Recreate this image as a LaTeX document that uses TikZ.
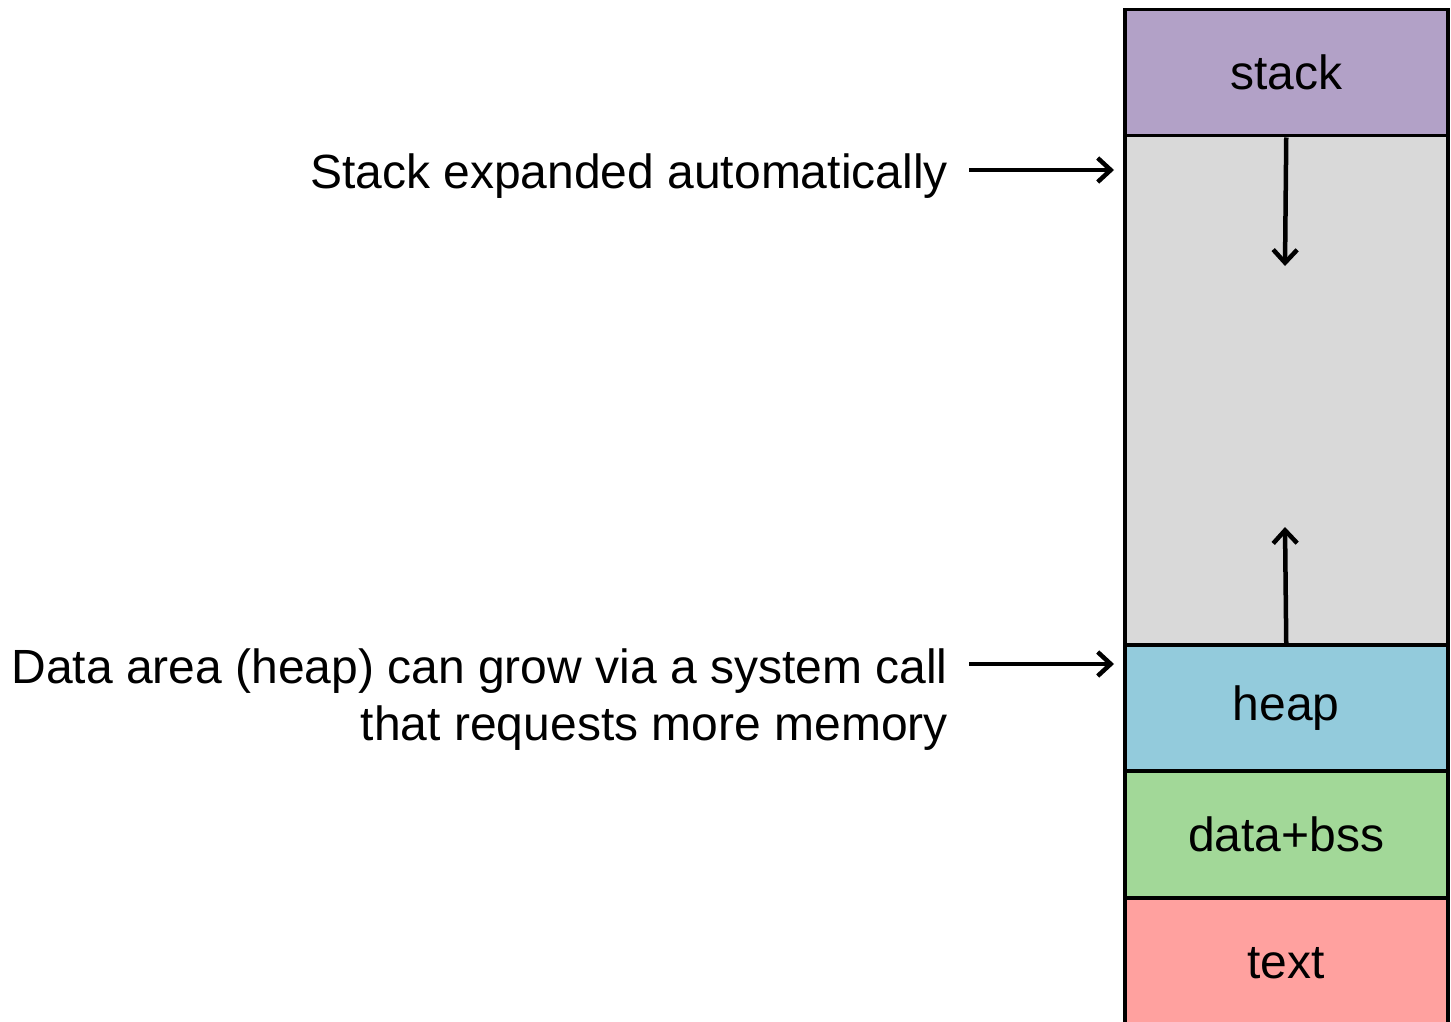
\documentclass[tikz,border=0pt]{standalone}
\usepackage{fontspec}
\setmainfont{Liberation Sans}
\usetikzlibrary{arrows.meta}
\definecolor{cstack}{HTML}{B2A1C7}
\definecolor{cgap}{HTML}{D9D9D9}
\definecolor{cheap}{HTML}{93CBDC}
\definecolor{cdata}{HTML}{A2D898}
\definecolor{ctext}{HTML}{FFA19F}
\tikzset{
  seg/.style={draw=black, line width=3.5pt, minimum width=323pt, inner sep=0pt, anchor=north west, font=\fontsize{48}{57}\selectfont},
  arr/.style={line width=4.5pt, -{Straight Barb[length=13pt,width=24pt]}},
  lbl/.style={font=\fontsize{48}{57}\selectfont, align=right, inner sep=0pt, anchor=base east}
}
\begin{document}
\begin{tikzpicture}[x=1pt,y=-1pt]
\useasboundingbox (0,0) rectangle (1451,1022);
\begin{scope}
\clip (0,0) rectangle (1451,1022);
\node[seg, fill=cgap, minimum height=509pt] (gap) at (1123,134) {};
\node[seg, fill=cstack, minimum height=126pt] (stack) at (1123,8) {stack};
\node[seg, fill=cheap, minimum height=126pt] (heap) at (1123,643) {heap};
\node[seg, fill=cdata, minimum height=127pt] (data) at (1123,769) {data+bss};
\node[seg, fill=ctext, minimum height=130pt] (text) at (1123,896) {text};
\end{scope}
\coordinate (sdown) at (1285,266);
\coordinate (hup) at (1285,527);
\draw[arr] (stack.south) -- (sdown);
\draw[arr] (heap.north) -- (hup);
\node[lbl] (l1) at (948,188) {Stack expanded automatically};
\node[lbl] (l2) at (948,740) {Data area (heap) can grow via a system call\\that requests more memory};
\coordinate (a1) at (1114,170);
\coordinate (a2) at (1114,664);
\draw[arr] (969,170) -- (a1);
\draw[arr] (969,664) -- (a2);
\end{tikzpicture}
\end{document}
